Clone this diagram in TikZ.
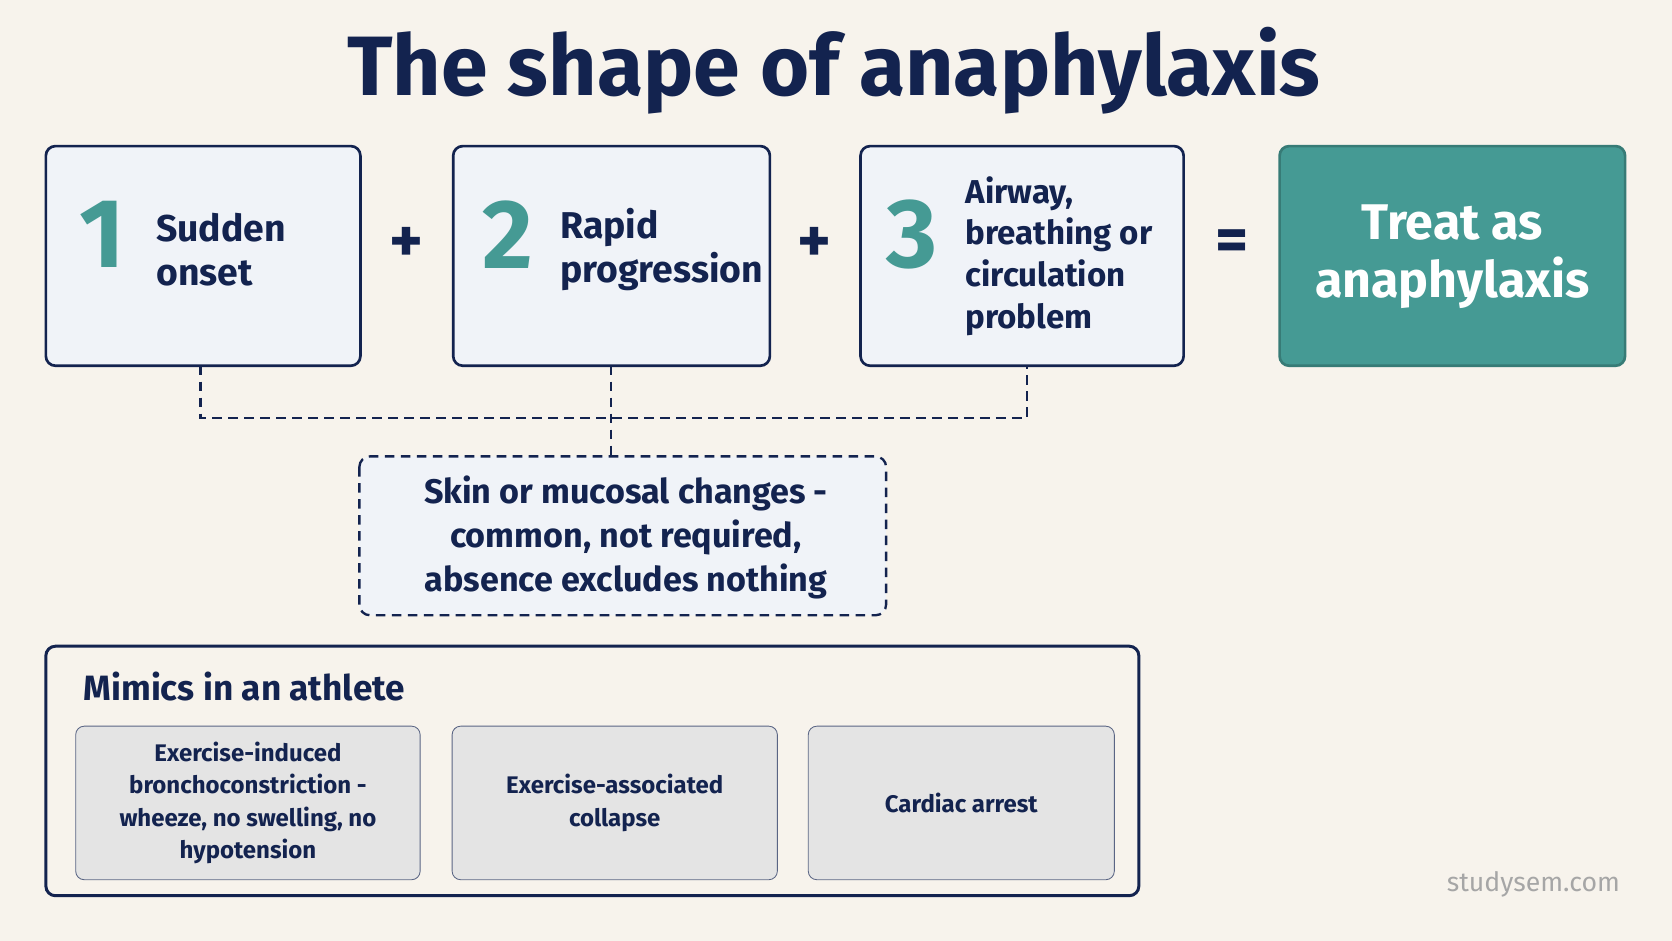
\documentclass[tikz,border=0pt]{standalone}
\usepackage{fontspec}
\setmainfont{Fira Sans}
\definecolor{bg}{HTML}{F7F3EC}
\definecolor{navy}{HTML}{13234F}
\definecolor{teal}{HTML}{459A94}
\definecolor{boxf}{HTML}{F0F3F8}
\definecolor{grayf}{HTML}{E4E4E4}
\begin{document}
\begin{tikzpicture}[x=1pt,y=-1pt,
  card/.style={draw=navy,line width=2.5pt,fill=boxf,rounded corners=9pt},
  mim/.style={draw=navy!70,line width=0.8pt,fill=grayf,rounded corners=8pt,minimum height=144pt,align=center,font=\fontsize{22.5}{30.5}\selectfont\bfseries\color{navy}},
  num/.style={font=\fontsize{92}{92}\selectfont\bfseries\color{teal}},
  lab/.style={font=\fontsize{35}{41}\selectfont\bfseries\color{navy},align=left,anchor=west},
  op/.style={font=\fontsize{60}{60}\selectfont\bfseries\color{navy}},
  dsh/.style={draw=navy,line width=2.2pt,dash pattern=on 9pt off 6pt}]
\fill[bg] (0,0) rectangle (1568,882);
\useasboundingbox (0,0) rectangle (1568,882);
\node[font=\fontsize{79}{79}\selectfont\bfseries\color{navy}] (title) at (782,66) {The shape of anaphylaxis};
\draw[card] (43,137) rectangle (338,343);
\draw[card] (425,137) rectangle (722,343);
\draw[card] (807,137) rectangle (1110,343);
\draw[draw=teal!80!black,line width=2.5pt,fill=teal,rounded corners=9pt] (1200,137) rectangle (1524,343);
\coordinate (b1) at (188,343); \coordinate (b2) at (573,343); \coordinate (b3) at (963,343);
\node[num] (n1) at (96,220) {1};
\node[lab] (t1) at (143,234) {Sudden\\onset};
\node[num] (n2) at (476,220) {2};
\node[lab] (t2) at (522,234) {Rapid\\progression};
\node[num] (n3) at (855,220) {3};
\node[lab,font=\fontsize{31}{39}\selectfont\bfseries\color{navy}] (t3) at (902,240) {Airway,\\breathing or\\circulation\\problem};
\node[font=\fontsize{47}{54}\selectfont\bfseries,text=white,align=center] (t4) at (1362,241) {Treat as\\anaphylaxis};
\node[op] (p1) at (381,230) {+};
\node[op] (p2) at (764,230) {+};
\node[op] (eq) at (1155,230) {=};
\draw[dsh] (b1) -- (188,392) -- (963,392) -- (b3);
\draw[dsh,rounded corners=10pt,fill=boxf] (337,428) rectangle (831,577);
\draw[dsh] (b2) -- (573,428);
\node[font=\fontsize{32}{41}\selectfont\bfseries\color{navy},align=center] (skin) at (587,504) {Skin or mucosal changes -\\common, not required,\\absence excludes nothing};
\draw[draw=navy,line width=2.8pt,rounded corners=9pt] (43,606) rectangle (1068,840);
\node[anchor=west,font=\fontsize{33}{40}\selectfont\bfseries\color{navy}] (mt) at (75,644) {Mimics in an athlete};
\node[mim,minimum width=323pt] (m1) at (232.5,753) {Exercise-induced\\bronchoconstriction -\\wheeze, no swelling, no\\hypotension};
\node[mim,minimum width=305pt] (m2) at (576.5,753) {Exercise-associated\\collapse};
\node[mim,minimum width=287pt] (m3) at (901.5,753) {Cardiac arrest};
\node[font=\fontsize{25}{25}\selectfont,text=gray!70] (ws) at (1438,829) {studysem.com};
\end{tikzpicture}
\end{document}
